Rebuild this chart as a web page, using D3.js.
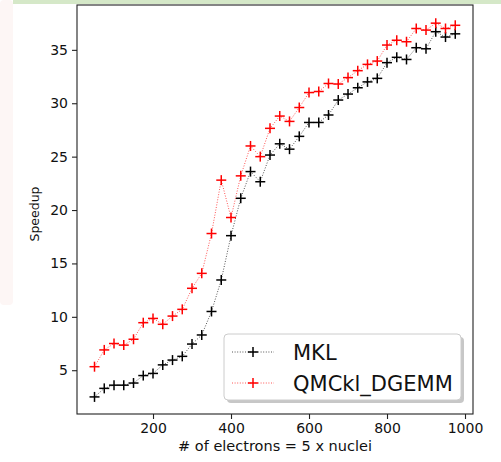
<!DOCTYPE html>
<html>
<head>
<meta charset="utf-8">
<script src="https://cdn.jsdelivr.net/npm/d3@7"></script>
<style>
  body { margin: 0; background: #fff; }
  svg { display: block; font-family: "DejaVu Sans", sans-serif; }
</style>
</head>
<body>
<svg id="chart" width="501" height="462"></svg>
<script>
// electrons on the x axis
var electrons = [50, 75, 100, 125, 150, 175, 200, 225, 250, 275, 300, 325, 350,
  375, 400, 425, 450, 475, 500, 525, 550, 575, 600, 625, 650, 675, 700, 725,
  750, 775, 800, 825, 850, 875, 900, 925, 950, 975];

var mkl = [2.5, 3.3, 3.6, 3.6, 3.8, 4.5, 4.7, 5.5, 5.95, 6.3, 7.45, 8.3, 10.5,
  13.45, 17.6, 21.1, 23.6, 22.65, 25.15, 26.2, 25.7, 26.9, 28.2, 28.2, 28.9,
  30.3, 30.86, 31.45, 32.0, 32.33, 33.8, 34.3, 34.1, 35.2, 35.1, 36.7, 36.2, 36.5];

var qmckl = [5.33, 6.9, 7.5, 7.35, 7.9, 9.45, 9.85, 9.3, 10.07, 10.7, 12.67, 14.07, 17.8,
  22.8, 19.3, 23.2, 26.0, 25.0, 27.65, 28.8, 28.3, 29.6, 31.0, 31.1, 31.85,
  31.8, 32.4, 33.05, 33.64, 33.95, 35.45, 35.9, 35.76, 37.0, 36.85, 37.5, 37.0, 37.3];

var seriesNames = ["MKL", "QMCkl_DGEMM"];
var xTicks = [200, 400, 600, 800, 1000];
var yTicks = [5, 10, 15, 20, 25, 30, 35];

var svg = d3.select("#chart");

// page bits around the figure (it's a screenshot)
svg.append("rect").attr("x", 0).attr("y", 0).attr("width", 13).attr("height", 305)
  .attr("rx", 4).style("fill", "#fdf6f5");
svg.append("rect").attr("x", 13).attr("y", 0).attr("width", 488).attr("height", 4)
  .style("fill", "#d5e8c8");

var pl = 77, pr = 473, pt = 5, pb = 414;

var x = d3.scaleLinear().domain([5.1, 1020.5]).range([pl, pr]);
var y = d3.scaleLinear().domain([0.9, 39.2]).range([pb, pt]);

var xAxis = svg.append("g")
  .attr("transform", "translate(0," + pb + ")")
  .call(d3.axisBottom(x).tickValues(xTicks).tickFormat(d3.format("d")).tickSize(5).tickPadding(4));
var yAxis = svg.append("g")
  .attr("transform", "translate(" + pl + ",0)")
  .call(d3.axisLeft(y).tickValues(yTicks).tickFormat(d3.format("d")).tickSize(5).tickPadding(4));

[xAxis, yAxis].forEach(function(a){
  a.select(".domain").remove();
  a.selectAll("line").style("stroke", "#222").style("stroke-width", 1.1);
  a.selectAll("text").style("font-size", "14px").style("fill", "#111")
    .style("font-family", "DejaVu Sans");
});

var data = [
  {name: seriesNames[0], values: mkl, color: "#000", line: "#555"},
  {name: seriesNames[1], values: qmckl, color: "#ff0000", line: "#ff5555"}
];

var lineGen = d3.line()
  .x(function(d, i){ return x(electrons[i]); })
  .y(function(d){ return y(d); });

function plus(g, cx, cy, color){
  g.append("line").attr("x1", cx - 5).attr("x2", cx + 5).attr("y1", cy).attr("y2", cy)
    .style("stroke", color).style("stroke-width", 1.5);
  g.append("line").attr("x1", cx).attr("x2", cx).attr("y1", cy - 5).attr("y2", cy + 5)
    .style("stroke", color).style("stroke-width", 1.5);
}

data.forEach(function(s){
  svg.append("path")
    .attr("d", lineGen(s.values))
    .style("fill", "none")
    .style("stroke", s.line)
    .style("stroke-width", 1)
    .style("stroke-dasharray", "1,1.6");
  var g = svg.append("g");
  s.values.forEach(function(v, i){
    plus(g, x(electrons[i]), y(v), s.color);
  });
});

// frame
svg.append("rect")
  .attr("x", pl).attr("y", pt)
  .attr("width", pr - pl).attr("height", pb - pt)
  .style("fill", "none").style("stroke", "#222").style("stroke-width", 1.1);

// labels
svg.append("text")
  .attr("x", (pl + pr) / 2).attr("y", 451)
  .attr("text-anchor", "middle")
  .style("font-size", "14.5px").style("fill", "#111")
  .text("# of electrons = 5 x nuclei");

svg.append("text")
  .attr("transform", "translate(38.5,214) rotate(-90)")
  .attr("text-anchor", "middle")
  .style("font-size", "12.5px").style("fill", "#111")
  .text("Speedup");

// legend with shadow
var lg = svg.append("g");
lg.append("rect").attr("x", 227).attr("y", 337).attr("width", 237).attr("height", 66)
  .attr("rx", 4).style("fill", "#999").style("opacity", 0.55);
lg.append("rect").attr("x", 224).attr("y", 334).attr("width", 237).attr("height", 66)
  .attr("rx", 4).style("fill", "#fff").style("stroke", "#ccc").style("stroke-width", 1);

data.forEach(function(s, i){
  var ly = 352 + i * 31;
  lg.append("line").attr("x1", 232).attr("x2", 274).attr("y1", ly).attr("y2", ly)
    .style("stroke", s.line).style("stroke-width", 1).style("stroke-dasharray", "1,1.6");
  plus(lg, 253, ly, s.color);
  lg.append("text").attr("x", 293).attr("y", ly + 7.5)
    .style("font-size", "21px").style("fill", "#111")
    .text(s.name);
});
</script>
</body>
</html>
